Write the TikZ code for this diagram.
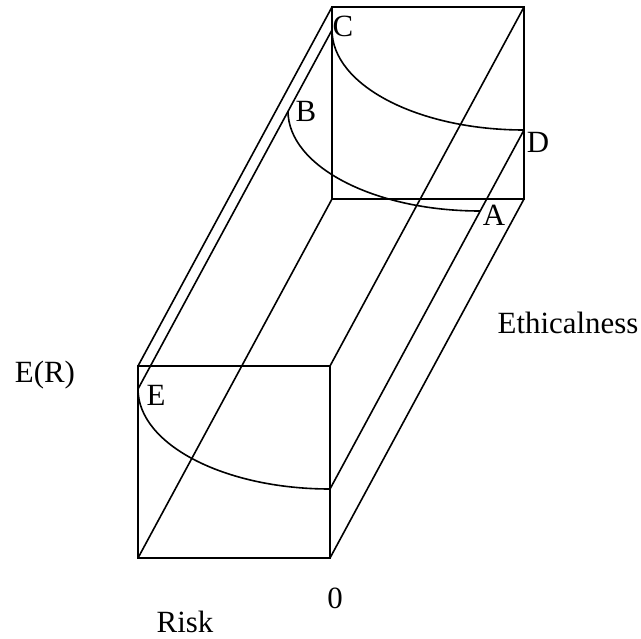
\documentclass[tikz,border=0pt]{standalone}
\usepackage{fontspec}
\setmainfont{Liberation Serif}
\usetikzlibrary{calc}
\tikzset{
  boxedge/.style={draw=black, line width=1.6bp, line join=miter},
  frontier/.style={draw=black, line width=1.6bp},
  ptlabel/.style={font=\fontsize{31}{36}\selectfont, inner sep=0pt, anchor=base},
}

\begin{document}
\begin{tikzpicture}[x=1bp, y=-1bp]
  \useasboundingbox (0,0) rectangle (641,639);

  % Box corners (front and back faces)
  \coordinate (fTL) at (138,366);
  \coordinate (fTR) at (330,366);
  \coordinate (fBL) at (138,558);
  \coordinate (fBR) at (330,558);
  \foreach \c in {TL,TR,BL,BR}
    \coordinate (b\c) at ($(f\c)+(194,-359)$);

  % Faces and depth edges
  \draw[boxedge] (fTL) -- (fTR) -- (fBR) -- (fBL) -- cycle;
  \draw[boxedge] (bTL) -- (bTR) -- (bBR) -- (bBL) -- cycle;
  \foreach \c in {TL,TR,BL,BR}
    \draw[boxedge] (f\c) -- (b\c);

  % Curve end points
  \coordinate (pE) at (138,389);
  \coordinate (pF) at (330,489);
  \coordinate (pC) at ($(pE)+(194,-359)$);
  \coordinate (pD) at ($(pF)+(194,-359)$);

  % Frontier curves at three depths
  \foreach \dx/\dy in {0/0, 150/-278, 194/-359}
    \draw[frontier] ($(pE)+(\dx,\dy)$)
      arc[start angle=180, end angle=90, x radius=192, y radius=100];
  \draw[frontier] (pE) -- (pC);
  \draw[frontier] (pF) -- (pD);

  % Labels
  \node[ptlabel] (labC) at (343,37) {C};
  \node[ptlabel] (labB) at (306,122) {B};
  \node[ptlabel] (labD) at (538,153) {D};
  \node[ptlabel] (labA) at (494,225) {A};
  \node[ptlabel] (labE) at (156,405) {E};
  \node[ptlabel] (labER) at (45,382) {E(R)};
  \node[ptlabel] (labEth) at (568,333) {Ethicalness};
  \node[ptlabel] (labZero) at (335,608) {0};
  \node[ptlabel] (labRisk) at (185,632) {Risk};
\end{tikzpicture}
\end{document}
